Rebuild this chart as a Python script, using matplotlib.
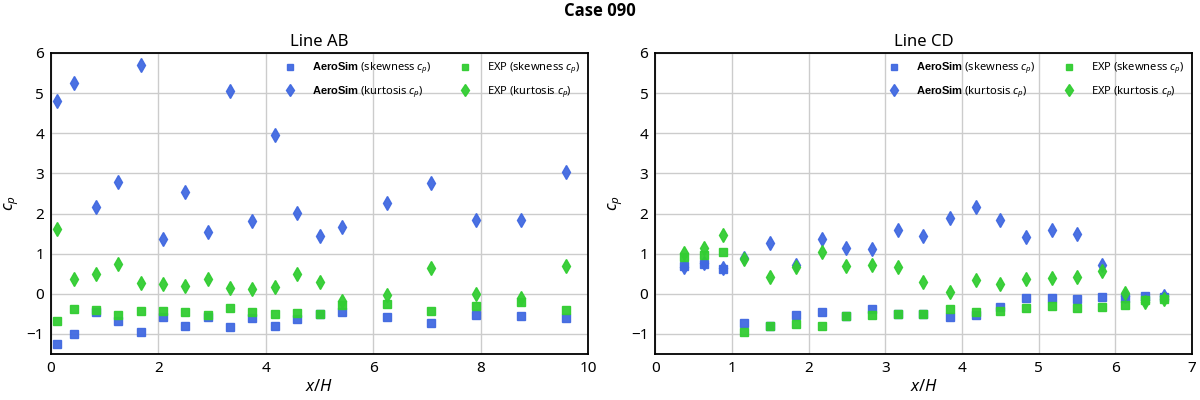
import matplotlib
matplotlib.use("Agg")
import matplotlib.pyplot as plt

plt.rcParams['font.family'] = ['Noto Sans', 'DejaVu Sans']
plt.rcParams['mathtext.fontset'] = 'custom'
plt.rcParams['mathtext.rm'] = 'Noto Sans'
plt.rcParams['mathtext.it'] = 'Noto Sans:italic'
plt.rcParams['mathtext.bf'] = 'Liberation Sans:bold'

# ---- Line AB ----
ab_x = [0.11, 0.43, 0.84, 1.25, 1.68, 2.09, 2.50, 2.92, 3.33, 3.74, 4.17, 4.58, 5.01, 5.42, 6.26, 7.08, 7.91, 8.75, 9.59]
ab_sim_skew = [-1.25, -1.00, -0.46, -0.68, -0.96, -0.58, -0.81, -0.58, -0.83, -0.61, -0.81, -0.63, -0.50, -0.46, -0.58, -0.73, -0.53, -0.56, -0.61]
ab_sim_kurt = [4.81, 5.26, 2.17, 2.79, 5.71, 1.37, 2.54, 1.55, 5.06, 1.82, 3.96, 2.02, 1.45, 1.67, 2.27, 2.77, 1.85, 1.85, 3.04]
ab_exp_skew = [-0.67, -0.38, -0.41, -0.53, -0.43, -0.43, -0.46, -0.53, -0.36, -0.46, -0.51, -0.48, -0.51, -0.27, -0.25, -0.43, -0.31, -0.20, -0.41]
ab_exp_kurt = [1.61, 0.37, 0.50, 0.75, 0.27, 0.25, 0.19, 0.37, 0.14, 0.12, 0.17, 0.50, 0.30, -0.18, -0.04, 0.64, 0.00, -0.11, 0.69]

# ---- Line CD ----
cd_x = [0.38, 0.63, 0.88, 1.16, 1.50, 1.83, 2.17, 2.49, 2.83, 3.16, 3.49, 3.84, 4.18, 4.50, 4.84, 5.17, 5.50, 5.83, 6.13, 6.38, 6.63]
cd_sim_skew = [0.70, 0.75, 0.62, -0.73, -0.79, -0.53, -0.46, -0.56, -0.38, -0.51, -0.50, -0.58, -0.53, -0.33, -0.11, -0.11, -0.13, -0.08, -0.11, -0.06, -0.08]
cd_sim_kurt = [0.68, 0.77, 0.65, 0.90, 1.27, 0.72, 1.36, 1.14, 1.11, 1.59, 1.44, 1.89, 2.16, 1.84, 1.41, 1.59, 1.49, 0.72, -0.05, -0.15, -0.05]
cd_exp_skew = [0.91, 0.97, 1.04, -0.95, -0.79, -0.76, -0.81, -0.56, -0.53, -0.51, -0.51, -0.38, -0.46, -0.43, -0.36, -0.31, -0.36, -0.33, -0.28, -0.16, -0.13]
cd_exp_kurt = [1.01, 1.15, 1.46, 0.87, 0.43, 0.66, 1.04, 0.69, 0.71, 0.66, 0.29, 0.04, 0.34, 0.24, 0.37, 0.39, 0.42, 0.57, 0.02, -0.21, -0.13]

titles = ["Line AB", "Line CD"]
xlims = [(0, 10), (0, 7)]
xticks = [[0, 2, 4, 6, 8, 10], [0, 1, 2, 3, 4, 5, 6, 7]]
yticks = [-1, 0, 1, 2, 3, 4, 5, 6]

BLUE = '#4169E1'
GREEN = '#32CD32'

fig = plt.figure(figsize=(12, 4), dpi=100)
axes = [fig.add_axes([0.0425, 0.115, 0.4475, 0.7525]),
        fig.add_axes([0.546, 0.115, 0.4475, 0.7525])]

data = [(ab_x, ab_sim_skew, ab_sim_kurt, ab_exp_skew, ab_exp_kurt),
        (cd_x, cd_sim_skew, cd_sim_kurt, cd_exp_skew, cd_exp_kurt)]

for ax, title, xl, xt, (x, ss, sk, es, ek) in zip(axes, titles, xlims, xticks, data):
    ax.plot(x, ss, 's', color=BLUE, ms=5.8, mec=BLUE, alpha=0.95,
            label=r'$\mathbf{AeroSim}$ (skewness $c_p$)', zorder=3)
    ax.plot(x, sk, 'd', color=BLUE, ms=7.2, mec=BLUE, alpha=0.95,
            label=r'$\mathbf{AeroSim}$ (kurtosis $c_p$)', zorder=3)
    ax.plot(x, es, 's', color=GREEN, ms=5.8, mec=GREEN, alpha=0.95,
            label=r'EXP (skewness $c_p$)', zorder=3)
    ax.plot(x, ek, 'd', color=GREEN, ms=7.2, mec=GREEN, alpha=0.95,
            label=r'EXP (kurtosis $c_p$)', zorder=3)
    ax.set_xlim(*xl)
    ax.set_ylim(-1.5, 6)
    ax.set_xticks(xt)
    ax.set_yticks(yticks)
    ax.grid(True, color='#cccccc', linewidth=1)
    ax.set_axisbelow(True)
    ax.tick_params(length=0, labelsize=11, pad=5)
    for s in ax.spines.values():
        s.set_linewidth(1.3)
        s.set_color('black')
    ax.set_title(title, fontsize=12, pad=5)
    ax.set_xlabel(r'$x/H$', fontsize=12, labelpad=2)
    ax.set_ylabel(r'$c_p$', fontsize=12, labelpad=4)
    ax.legend(loc='upper right', ncol=2, frameon=False, fontsize=8,
              columnspacing=2.0, handletextpad=1.0, labelspacing=0.7,
              borderaxespad=0.3, markerscale=0.85)

fig.suptitle('Case 090', fontsize=12, fontweight='bold', y=0.995,
             family=['Open Sans', 'DejaVu Sans'])
fig.savefig('out.png', dpi=100, facecolor='white')
